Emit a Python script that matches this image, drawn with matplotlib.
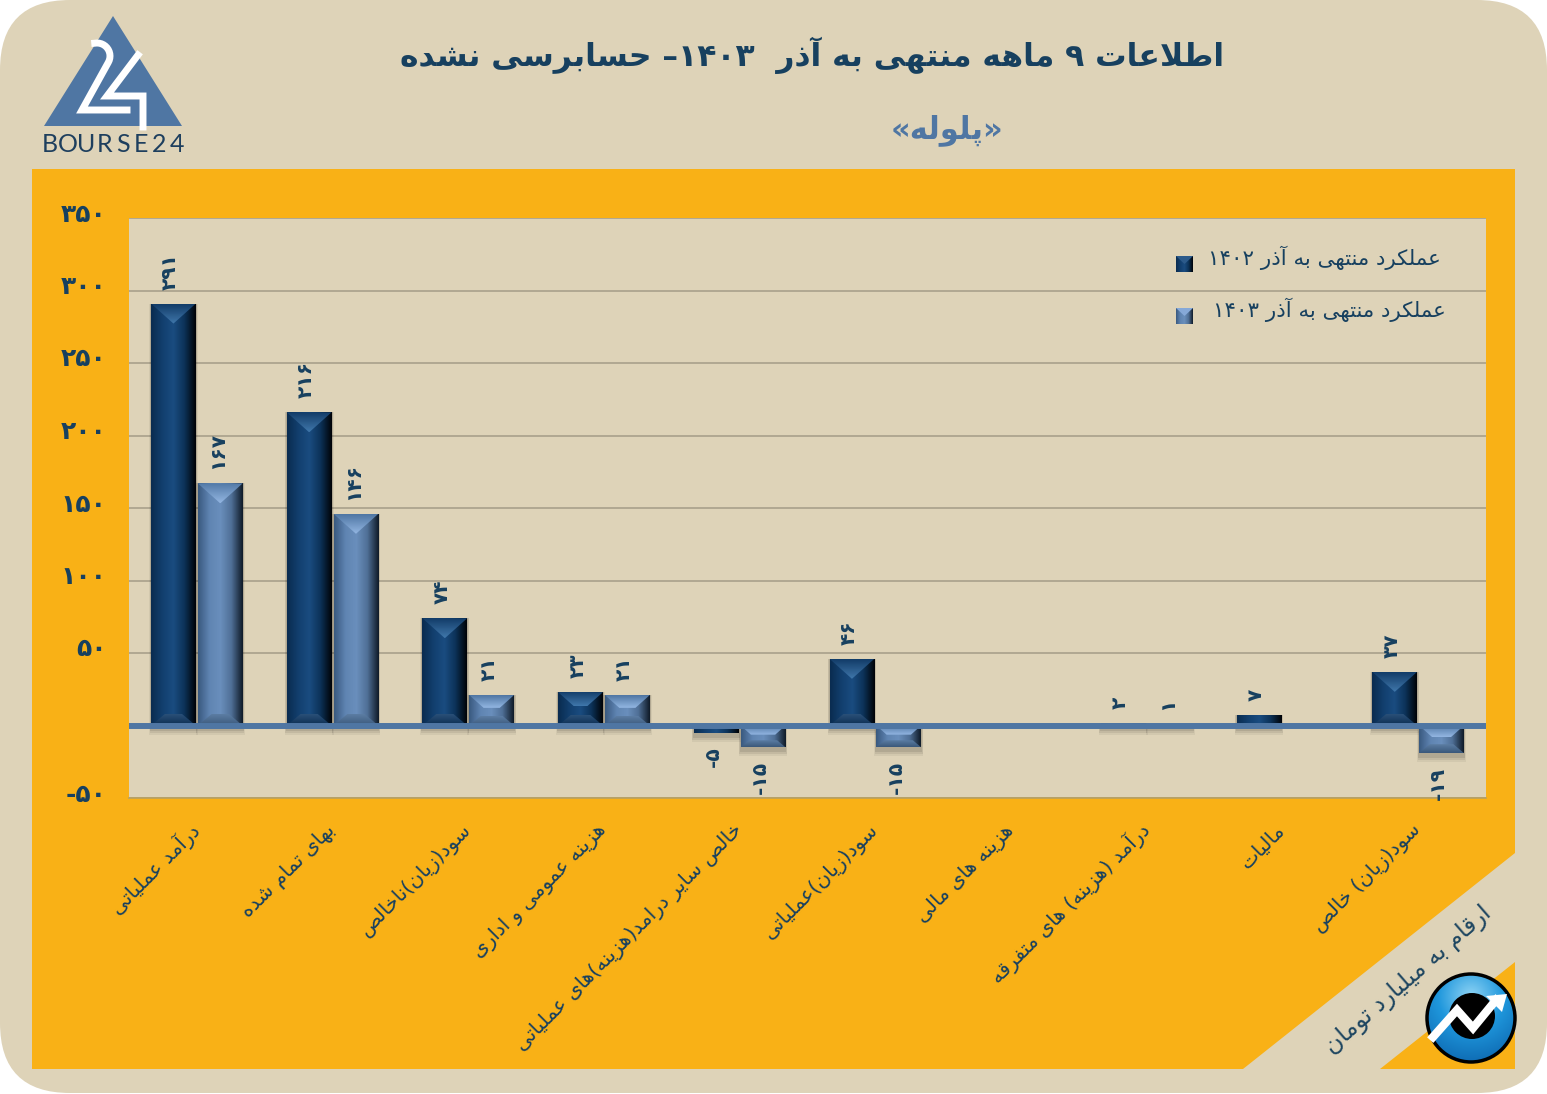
import numpy as np
import matplotlib
matplotlib.use('Agg')
import matplotlib.pyplot as plt
from matplotlib.colors import LinearSegmentedColormap
from matplotlib.patches import FancyBboxPatch, Polygon, Circle, Rectangle
from matplotlib.transforms import ScaledTranslation

categories = ['درآمد عملیاتی', 'بهای تمام شده', 'سود(زیان)ناخالص', 'هزینه عمومی و اداری',
              'خالص سایر درامد(هزینه)های عملیاتی', 'سود(زیان)عملیاتی', 'هزینه های مالی',
              'درآمد (هزینه) های متفرقه', 'مالیات', 'سود(زیان) خالص']
values_1402 = [291, 216, 74, 23, -5, 46, 0, 2, 7, 37]
values_1403 = [167, 146, 21, 21, -15, -15, 0, 1, 0, -19]
y_ticks = [-50, 0, 50, 100, 150, 200, 250, 300, 350]
y_tick_labels = ['-۵۰', '', '۵۰', '۱۰۰', '۱۵۰', '۲۰۰', '۲۵۰', '۳۰۰', '۳۵۰']
title = 'اطلاعات ۹ ماهه منتهی به آذر  ۱۴۰۳– حسابرسی نشده'
subtitle = '«پلوله»'
legend_1402 = 'عملکرد منتهی به آذر ۱۴۰۲'
legend_1403 = 'عملکرد منتهی به آذر ۱۴۰۳'
unit_note = 'ارقام به میلیارد تومان'

BEIGE = '#ded3b8'
ORANGE = '#f9b116'
NAVY = '#17405f'
STEEL = '#4f76a3'

# matplotlib has no arabic shaping, so pick the presentation forms by hand
# letter: isolated, final, initial, medial
FORMS = {'ا': (0xFE8D, 0xFE8E), 'آ': (0xFE81, 0xFE82), 'د': (0xFEA9, 0xFEAA), 'ذ': (0xFEAB, 0xFEAC),
         'ر': (0xFEAD, 0xFEAE), 'ز': (0xFEAF, 0xFEB0), 'و': (0xFEED, 0xFEEE),
         'ب': (0xFE8F, 0xFE90, 0xFE91, 0xFE92), 'پ': (0xFB56, 0xFB57, 0xFB58, 0xFB59),
         'ت': (0xFE95, 0xFE96, 0xFE97, 0xFE98), 'ح': (0xFEA1, 0xFEA2, 0xFEA3, 0xFEA4),
         'خ': (0xFEA5, 0xFEA6, 0xFEA7, 0xFEA8), 'س': (0xFEB1, 0xFEB2, 0xFEB3, 0xFEB4),
         'ش': (0xFEB5, 0xFEB6, 0xFEB7, 0xFEB8), 'ص': (0xFEB9, 0xFEBA, 0xFEBB, 0xFEBC),
         'ط': (0xFEC1, 0xFEC2, 0xFEC3, 0xFEC4), 'ع': (0xFEC9, 0xFECA, 0xFECB, 0xFECC),
         'ف': (0xFED1, 0xFED2, 0xFED3, 0xFED4), 'ق': (0xFED5, 0xFED6, 0xFED7, 0xFED8),
         'ک': (0xFB8E, 0xFB8F, 0xFB90, 0xFB91), 'ل': (0xFEDD, 0xFEDE, 0xFEDF, 0xFEE0),
         'م': (0xFEE1, 0xFEE2, 0xFEE3, 0xFEE4), 'ن': (0xFEE5, 0xFEE6, 0xFEE7, 0xFEE8),
         'ه': (0xFEE9, 0xFEEA, 0xFEEB, 0xFEEC), 'ی': (0xFBFC, 0xFBFD, 0xFBFE, 0xFBFF)}
DIGITS = '۰۱۲۳۴۵۶۷۸۹'
MIRROR = {'(': ')', ')': '(', '«': '»', '»': '«'}


def rtl(text):
    text = text.replace('لا', '\uE000')
    shaped = []
    for i, ch in enumerate(text):
        prev_ch = text[i - 1] if i > 0 else ' '
        next_ch = text[i + 1] if i + 1 < len(text) else ' '
        joins_prev = prev_ch in FORMS and len(FORMS[prev_ch]) == 4
        joins_next = next_ch in FORMS or next_ch == '\uE000'
        if ch == '\uE000':
            shaped.append(chr(0xFEFC if joins_prev else 0xFEFB))
        elif ch in FORMS:
            f = FORMS[ch]
            if len(f) == 2:
                shaped.append(chr(f[1] if joins_prev else f[0]))
            elif joins_prev and joins_next:
                shaped.append(chr(f[3]))
            elif joins_next:
                shaped.append(chr(f[2]))
            elif joins_prev:
                shaped.append(chr(f[1]))
            else:
                shaped.append(chr(f[0]))
        else:
            shaped.append(MIRROR.get(ch, ch))
    out = ''.join(reversed(shaped))
    # digit runs stay left to right
    result, run = '', ''
    for ch in out:
        if ch in DIGITS:
            run = ch + run
        else:
            result += run + ch
            run = ''
    return result + run


def fa(n):
    s = ''.join(DIGITS[int(c)] for c in str(abs(n)))
    return '-' + s if n < 0 else s


plt.rcParams['font.family'] = ['DejaVu Sans']

fig = plt.figure(figsize=(15.47, 10.94), dpi=100, facecolor='white')

# background panels, in pixel coordinates
bg = fig.add_axes([0, 0, 1, 1], zorder=0)
bg.set_xlim(0, 1547)
bg.set_ylim(1094, 0)
bg.axis('off')
bg.add_patch(FancyBboxPatch((0, 0), 1547, 1093, boxstyle='round,pad=0,rounding_size=70', fc=BEIGE, ec='none'))
bg.add_patch(Rectangle((32, 169), 1483, 900, fc=ORANGE, ec='none'))
bg.add_patch(Polygon([(1515, 853), (1243, 1069), (1380, 1069), (1515, 962)], fc=BEIGE, ec='none'))

# logo
bg.add_patch(Polygon([(113, 16), (44, 126), (182, 126)], fc=STEEL, ec='none'))
t = np.radians(np.arange(-100, 40, 10))
two_x = list(97 + 13 * np.cos(t))
two_y = list(56 + 13 * np.sin(t))
bg.plot(two_x + [82, 127], two_y + [110, 110], color='white', lw=5, solid_joinstyle='miter')
bg.plot([138, 107, 143, 143], [55, 96, 96, 127], color='white', lw=5, solid_joinstyle='miter')
for i, ch in enumerate('BOURSE24'):
    bg.text(50 + i * 18.2, 144, ch, fontsize=18, family='Lato', color='#1e3f5e', ha='center', va='center')

bg.text(812, 55, rtl(title), fontsize=22.6, fontweight='bold', color=NAVY, ha='center', va='center')
bg.text(947, 130, rtl(subtitle), fontsize=22, fontweight='bold', color=STEEL, ha='center', va='center')
bg.text(1408, 980, rtl(unit_note), fontsize=17, color='#1d4560', rotation=41, rotation_mode='anchor',
        ha='center', va='center')

# round icon
yy, xx = np.mgrid[-1:1:200j, -1:1:200j]
icon_cmap = LinearSegmentedColormap.from_list('icon', ['#8fd4f5', '#1f97dc', '#0f6db5'])
icon = bg.imshow(np.hypot(xx, yy + 0.5), cmap=icon_cmap, extent=(1427, 1515, 1062, 974), vmin=0, vmax=1.5,
                 aspect='auto', zorder=3)
icon_clip = Circle((1471, 1018), 44, transform=bg.transData)
icon.set_clip_path(icon_clip)
bg.add_patch(Circle((1471, 1018), 44, fc='none', ec='black', lw=2.5, zorder=4))
bg.add_patch(Circle((1472, 1016), 23, fc='black', ec='none', zorder=4))
bg.plot([1433, 1457, 1473, 1496], [1037, 1010, 1028, 1000], color='white', lw=6, zorder=5,
        solid_joinstyle='miter')
bg.add_patch(Polygon([(1507, 994), (1486, 996), (1502, 1012)], fc='white', ec='none', zorder=5))
bg.set_xlim(0, 1547)
bg.set_ylim(1094, 0)

# chart
ax = fig.add_axes([129 / 1547, 1 - 798 / 1094, (1486 - 129) / 1547, (798 - 218) / 1094], zorder=1)
ax.set_facecolor(BEIGE)
x = np.arange(len(categories))
width = 0.33
step = 0.345

dark_cmap = LinearSegmentedColormap.from_list('dark', ['#0a2c50', '#123f6e', '#1a4c80', '#0c3258', '#000308'])
light_cmap = LinearSegmentedColormap.from_list('light', ['#3a5a80', '#5f84b2', '#6a8fbc', '#4f6f96', '#101c2a'])
h_grad = np.linspace(0, 1, 64).reshape(1, -1)
v_grad = np.linspace(0, 1, 64).reshape(-1, 1)

bars_a = ax.bar(x - step / 2, values_1402, width, color='#0b3359', zorder=3)
bars_b = ax.bar(x + step / 2, values_1403, width, color='#5a80ae', zorder=3)

ax.set_xlim(-0.5, len(categories) - 0.5)
ax.set_ylim(-50, 350)
px_x = (1486 - 129) / len(categories)
px_y = (798 - 218) / 400


def shaded_poly(target, pts, cmap, extent, zorder):
    im = target.imshow(v_grad, cmap=cmap, extent=extent, aspect='auto', zorder=zorder)
    im.set_clip_path(Polygon(pts, transform=target.transData))


def bevel(bars, cmap, top_cmap, bottom_cmap):
    for r in bars:
        h = r.get_height()
        if h == 0:
            continue
        x0, x1 = r.get_x(), r.get_x() + r.get_width()
        y0, y1 = min(r.get_y(), r.get_y() + h), max(r.get_y(), r.get_y() + h)
        # soft shadow, mostly below the bar
        for gy, gx, a in zip([9, 7, 5], [4, 3, 2], [0.05, 0.07, 0.09]):
            ax.add_patch(Rectangle((x0 - gx / px_x / 2, y0 - gy / px_y), x1 - x0 + gx / px_x,
                                   y1 - y0 + gy / px_y, fc='black', alpha=a, ec='none', zorder=2))
        ax.imshow(h_grad, cmap=cmap, extent=(x0, x1, y0, y1), aspect='auto', zorder=3.1)
        height_px = (y1 - y0) * px_y
        if height_px < 14:
            continue
        # bevel depth in pixels, a trapezoid on short bars and a triangle on tall ones
        half = (x1 - x0) / 2
        d = min(20, height_px * 0.42)
        d2 = min(12, height_px * 0.32)
        ins = min(half, d * 1.12 / px_x)
        ins2 = min(half, d2 * 1.2 / px_x)
        d, d2 = d / px_y, d2 / px_y
        shaded_poly(ax, [(x0, y1), (x1, y1), (x1 - ins, y1 - d), (x0 + ins, y1 - d)], top_cmap,
                    (x0, x1, y1 - d, y1), 3.2)
        shaded_poly(ax, [(x0, y0), (x1, y0), (x1 - ins2, y0 + d2), (x0 + ins2, y0 + d2)], bottom_cmap,
                    (x0, x1, y0, y0 + d2), 3.2)


dark_top = LinearSegmentedColormap.from_list('dt', ['#123c68', '#4077ab'])
light_top = LinearSegmentedColormap.from_list('lt', ['#4f76a3', '#93b6e2'])
dark_bottom = LinearSegmentedColormap.from_list('db', ['#2a5078', '#0b2c50'])
light_bottom = LinearSegmentedColormap.from_list('lb', ['#5c7da3', '#3a587a'])
bevel(bars_a, dark_cmap, dark_top, dark_bottom)
bevel(bars_b, light_cmap, light_top, light_bottom)
ax.set_xlim(-0.5, len(categories) - 0.5)
ax.set_ylim(-50, 350)

ax.axhline(0, color=STEEL, lw=4.3, zorder=4)
ax.grid(axis='y', color='#a8a08b', lw=1.2, zorder=1)
ax.set_axisbelow(True)
for s in ['top', 'left', 'right']:
    ax.spines[s].set_visible(False)
ax.spines['bottom'].set_color('#b8a060')
ax.spines['bottom'].set_linewidth(1.2)

ax.set_yticks(y_ticks)
ax.set_yticklabels(y_tick_labels, fontsize=18, fontweight='bold', color=NAVY)
ax.tick_params(axis='y', length=0, pad=16)
up = ScaledTranslation(0, 6 / 100, fig.dpi_scale_trans)
for lab in ax.get_yticklabels():
    lab.set_transform(lab.get_transform() + up)

ax.set_xticks(x)
ax.set_xticklabels([rtl(c) for c in categories], fontsize=14.5, color=NAVY, rotation=45, ha='right',
                   va='center', rotation_mode='anchor')
ax.tick_params(axis='x', length=0, pad=21)

for bars in (bars_a, bars_b):
    for r in bars:
        h = r.get_height()
        if h == 0:
            continue
        xc = r.get_x() + r.get_width() / 2
        off = 10 if h > 0 else -10
        ax.annotate(fa(int(h)), (xc, h), xytext=(-2, off), textcoords='offset points', rotation=90,
                    ha='center', va='bottom' if h > 0 else 'top', fontsize=14.5, fontweight='bold',
                    color=NAVY, zorder=5, annotation_clip=False)

# legend, placed by hand like the original
ov = fig.add_axes([0, 0, 1, 1], zorder=2)
ov.patch.set_alpha(0)
ov.axis('off')
for y, cmap, col, txt, right in [(264, dark_cmap, '#2c5a8a', legend_1402, 1441),
                                 (316, light_cmap, '#86a9d8', legend_1403, 1446)]:
    ov.imshow(h_grad, cmap=cmap, extent=(1176, 1193, y + 8, y - 8), aspect='auto')
    ov.add_patch(Polygon([(1176, y - 8), (1193, y - 8), (1184.5, y)], fc=col, ec='none'))
    ov.text(right, y - 6, rtl(txt), fontsize=15.4, color=NAVY, ha='right', va='center')
ov.set_xlim(0, 1547)
ov.set_ylim(1094, 0)

fig.savefig('out.png', dpi=100, facecolor='white')
